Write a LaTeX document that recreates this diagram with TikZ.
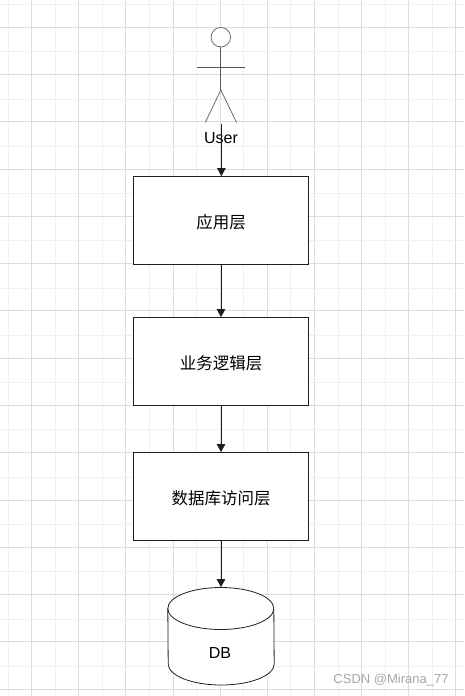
\documentclass[tikz,border=0pt]{standalone}
\usepackage{xcolor}
\usepackage{fontspec}
\setmainfont{Liberation Sans}
\newfontfamily\cjk{Noto Sans CJK SC}
\usetikzlibrary{shapes.geometric, arrows.meta, positioning}
\definecolor{mygrid}{RGB}{220,220,220}
\definecolor{mygridlight}{RGB}{240,240,240}
\definecolor{mydark}{RGB}{30,30,30}
\definecolor{myactor}{RGB}{90,90,90}
\definecolor{mymark}{RGB}{165,165,165}
\tikzset{
  layer/.style={rectangle, draw=mydark, fill=white, minimum width=175pt, minimum height=88pt,
    inner sep=0pt, text height=17.5pt, text depth=2pt,
    font=\fontsize{16.5}{18}\selectfont\cjk, line width=0.8pt},
  dbnode/.style={rectangle, minimum width=106pt, minimum height=98pt, inner sep=0pt},
  drum/.style={draw=mydark, fill=white, line width=0.8pt},
  arrow/.style={-{Triangle[length=8pt, width=8.5pt]}, line width=1pt, color=mydark},
  limb/.style={line width=0.7pt, color=myactor}
}
\begin{document}
\begin{tikzpicture}[x=1pt, y=-1pt]
  \useasboundingbox (0,0) rectangle (464,696);

  % background grid
  \foreach \k in {0,...,9} {
    \draw[mygridlight, line width=1pt] (8+47.15*\k,0) -- (8+47.15*\k,696);
    \draw[mygrid, line width=1pt] (31.6+47.15*\k,0) -- (31.6+47.15*\k,696);
  }
  \foreach \k in {0,...,14} {
    \draw[mygridlight, line width=1pt] (0,4.5+47.27*\k) -- (464,4.5+47.27*\k);
    \draw[mygrid, line width=1pt] (0,27.3+47.27*\k) -- (464,27.3+47.27*\k);
  }

  % actor
  \node[circle, draw=myactor, fill=white, minimum size=19.5pt, inner sep=0pt, line width=0.7pt] (head) at (220.8,37.2) {};
  \coordinate (hip) at (220.8,90);
  \coordinate (armL) at (197,67.3);
  \coordinate (armR) at (245,67.3);
  \coordinate (footL) at (205.3,122.5);
  \coordinate (footR) at (236.5,122.5);
  \coordinate (start) at (221.4,124);
  \draw[limb, line width=1.1pt] (head) -- (hip);
  \draw[limb] (armL) -- (armR);
  \draw[limb] (footL) -- (hip) -- (footR);
  \node[font=\fontsize{16}{18}\selectfont, inner sep=0pt] (user) at (221,138.5) {User};

  \node[layer] (app) at (221,220.5) {应用层};
  \node[layer] (biz) at (221,361.5) {业务逻辑层};
  \node[layer] (dao) at (221,496.5) {数据库访问层};
  \node[dbnode] (db) at (221,636.3) {};
  % drum body and its top rim
  \draw[drum] (db.west |- 0,608.5) arc[start angle=180, end angle=0, x radius=53, y radius=-21]
    -- (db.east |- 0,664) arc[start angle=0, end angle=-180, x radius=53, y radius=-21] -- cycle;
  \draw[drum, fill=none] (db.west |- 0,608.5) arc[start angle=180, end angle=360, x radius=53, y radius=-21];
  \node[font=\fontsize{16}{18}\selectfont, inner sep=0pt] (dblabel) at (220,653) {DB};
  \node[font=\fontsize{13}{15}\selectfont, color=mymark, inner sep=0pt] (mark) at (391,680) {CSDN @Mirana\_77};

  \draw[arrow] (start) -- (start |- app.north);
  \draw[arrow] (app) -- (biz);
  \draw[arrow] (biz) -- (dao);
  \draw[arrow] (dao) -- (db.north);

\end{tikzpicture}
\end{document}
